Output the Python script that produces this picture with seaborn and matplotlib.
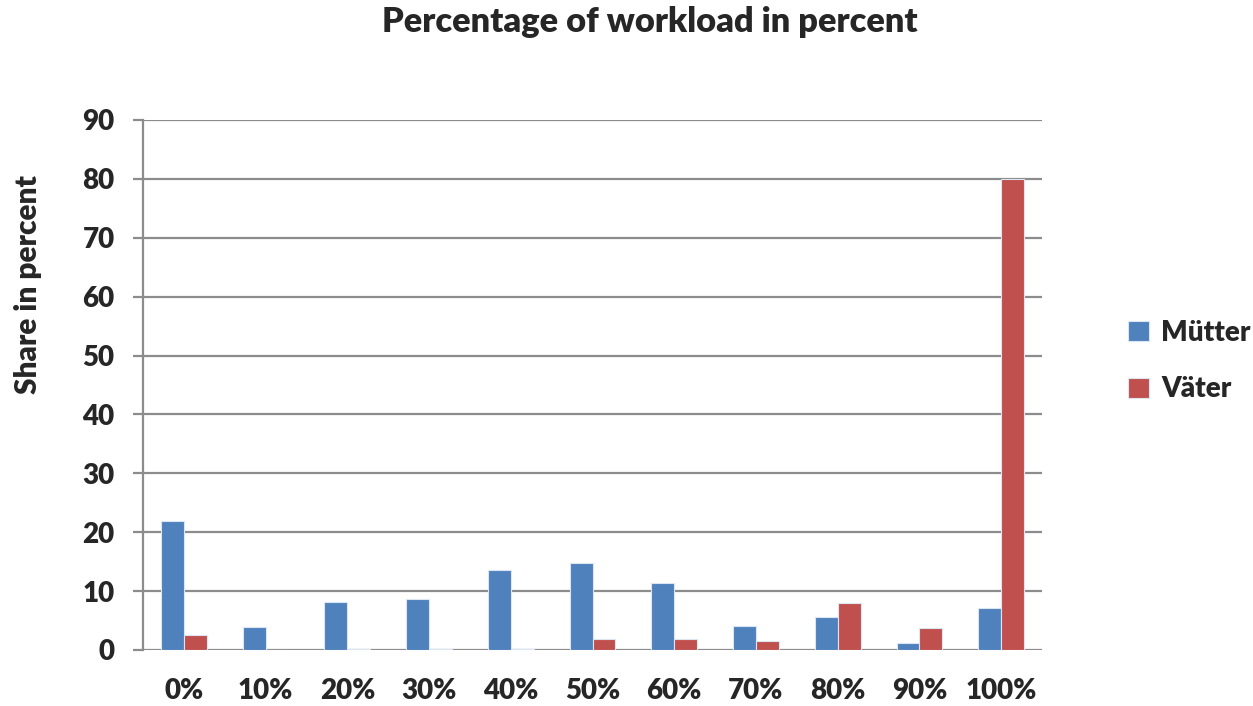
import matplotlib
matplotlib.use("Agg")
import matplotlib.pyplot as plt
import seaborn as sns
import pandas as pd

categories = ["0%", "10%", "20%", "30%", "40%", "50%", "60%", "70%", "80%", "90%", "100%"]
muetter = [21.9, 3.9, 8.2, 8.6, 13.6, 14.7, 11.3, 4.0, 5.6, 1.2, 7.1]
vaeter = [2.5, 0.0, 0.1, 0.2, 0.1, 1.8, 1.9, 1.5, 7.9, 3.7, 80.0]
series_names = ["Mütter", "Väter"]
y_ticks = [0, 10, 20, 30, 40, 50, 60, 70, 80, 90]

df = pd.DataFrame({
    "workload": categories * 2,
    "share": muetter + vaeter,
    "group": [series_names[0]] * len(categories) + [series_names[1]] * len(categories),
})

sns.set_theme(style="white")
plt.rcParams["font.family"] = ["Lato", "DejaVu Sans"]
W = "heavy"

fig = plt.figure(figsize=(12.53, 7.06), dpi=100)
ax = fig.add_axes([143 / 1253, 1 - 650 / 706, (1042 - 143) / 1253, (650 - 120) / 706])

palette = {"Mütter": "#4F81BD", "Väter": "#C0504D"}
sns.barplot(data=df, x="workload", y="share", hue="group", order=categories,
            hue_order=series_names, palette=palette, width=0.56, ax=ax,
            edgecolor="#DCE6F2", linewidth=0.8, saturation=1, legend=True)

ax.set_ylim(0, 90)
ax.set_yticks(y_ticks)
ax.set_xlim(-0.5, len(categories) - 0.5)
ax.yaxis.grid(True, color="#8C8C8C", linewidth=1.6)
ax.set_axisbelow(True)
for side in ["top", "right", "bottom"]:
    ax.spines[side].set_visible(False)
ax.spines["left"].set_color("#8C8C8C")
ax.spines["left"].set_linewidth(1.6)
ax.tick_params(axis="y", direction="out", length=7.5, width=1.6, color="#8C8C8C",
               left=True, labelsize=20, pad=13)
ax.tick_params(axis="x", length=0, labelsize=20, pad=20)
for lbl in ax.get_xticklabels() + ax.get_yticklabels():
    lbl.set_fontweight(W)
ax.set_xlabel("")
ax.set_ylabel("Share in percent", fontsize=21.5, fontweight=W)
ax.yaxis.set_label_coords((42 - 143) / 899, (650 - 285) / 530)

fig.suptitle("Percentage of workload in percent", x=650 / 1253, y=1 - 6 / 706,
             fontsize=24.75, fontweight=W, va="top")

leg = ax.legend(loc="center left", bbox_to_anchor=((1128 - 143) / 899, 0.545),
                frameon=False, borderpad=0, borderaxespad=0,
                prop={"size": 20, "weight": W}, handlelength=0.75,
                handleheight=0.75, labelspacing=1.1, handletextpad=0.45)

fig.savefig("out.png", dpi=100)
